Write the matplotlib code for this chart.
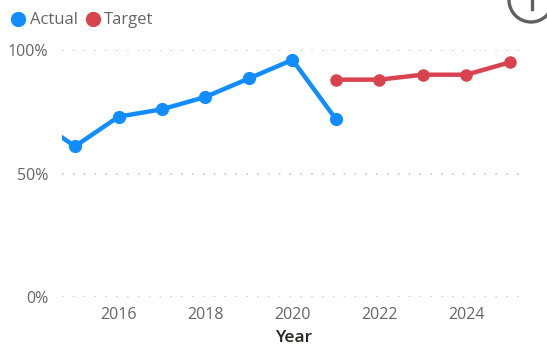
import numpy as np
import matplotlib
matplotlib.use('Agg')
import matplotlib.pyplot as plt
from matplotlib.lines import Line2D
from matplotlib.patches import Circle

actual_years = [2014, 2015, 2016, 2017, 2018, 2019, 2020, 2021]
actual_vals = [73, 61, 73, 76, 81, 88.5, 96, 72]
target_years = [2021, 2022, 2023, 2024, 2025]
target_vals = [88, 88, 90, 90, 95]
x_ticks = [2016, 2018, 2020, 2022, 2024]
y_ticks = [0, 50, 100]

blue = '#118DFF'
red = '#D9434F'
grey = '#666666'

W, H = 547, 346
plt.rcParams['font.family'] = ['Open Sans', 'DejaVu Sans']

fig = plt.figure(figsize=(W/100, H/100), dpi=100)
ax = fig.add_axes([62/W, 1-297/H, 460/W, 247/H])

ax.plot(actual_years, actual_vals, '-o', c=blue, lw=3.2, ms=8.5, label='Actual')
ax.plot(target_years, target_vals, '-o', c=red, lw=3.2, ms=8, label='Target')

ax.set_xlim(2014.7, 2025.28)
ax.set_ylim(0, 100)
ax.set_xticks(x_ticks)
ax.set_yticks(y_ticks)
ax.set_yticklabels([f'{v}%' for v in y_ticks])
ax.tick_params(length=0, labelsize=11.5, labelcolor=grey)
ax.tick_params(axis='x', pad=7)
ax.tick_params(axis='y', pad=10)
ax.set_axisbelow(True)
ax.grid(axis='y', color='#C8C8C8', lw=1.2, linestyle=(0, (1, 5.5)))
for s in ax.spines.values():
    s.set_visible(False)
ax.set_xlabel('Year', fontsize=12.5, color='#252423', labelpad=5, fontweight='semibold', x=0.505)

handles = [Line2D([], [], ls='', marker='o', ms=10, c=blue),
           Line2D([], [], ls='', marker='o', ms=10, c=red)]
fig.legend(handles, ['Actual', 'Target'], loc='upper left', bbox_to_anchor=(8/W, 1-9/H),
           frameon=False, ncol=2, fontsize=12, labelcolor=grey, handlelength=0.8,
           handletextpad=0.3, columnspacing=0.5, borderpad=0.2, borderaxespad=0)

# info button poking in at the top right corner
bg = fig.add_axes([0, 0, 1, 1], zorder=-1)
bg.set_xlim(0, W)
bg.set_ylim(H, 0)
bg.axis('off')
bg.add_patch(Circle((531, 0), 22, fill=False, ec='#606060', lw=2.4))
bg.plot([532, 532], [0, 9], c='#606060', lw=2.4)

fig.savefig('out.png', dpi=100)
